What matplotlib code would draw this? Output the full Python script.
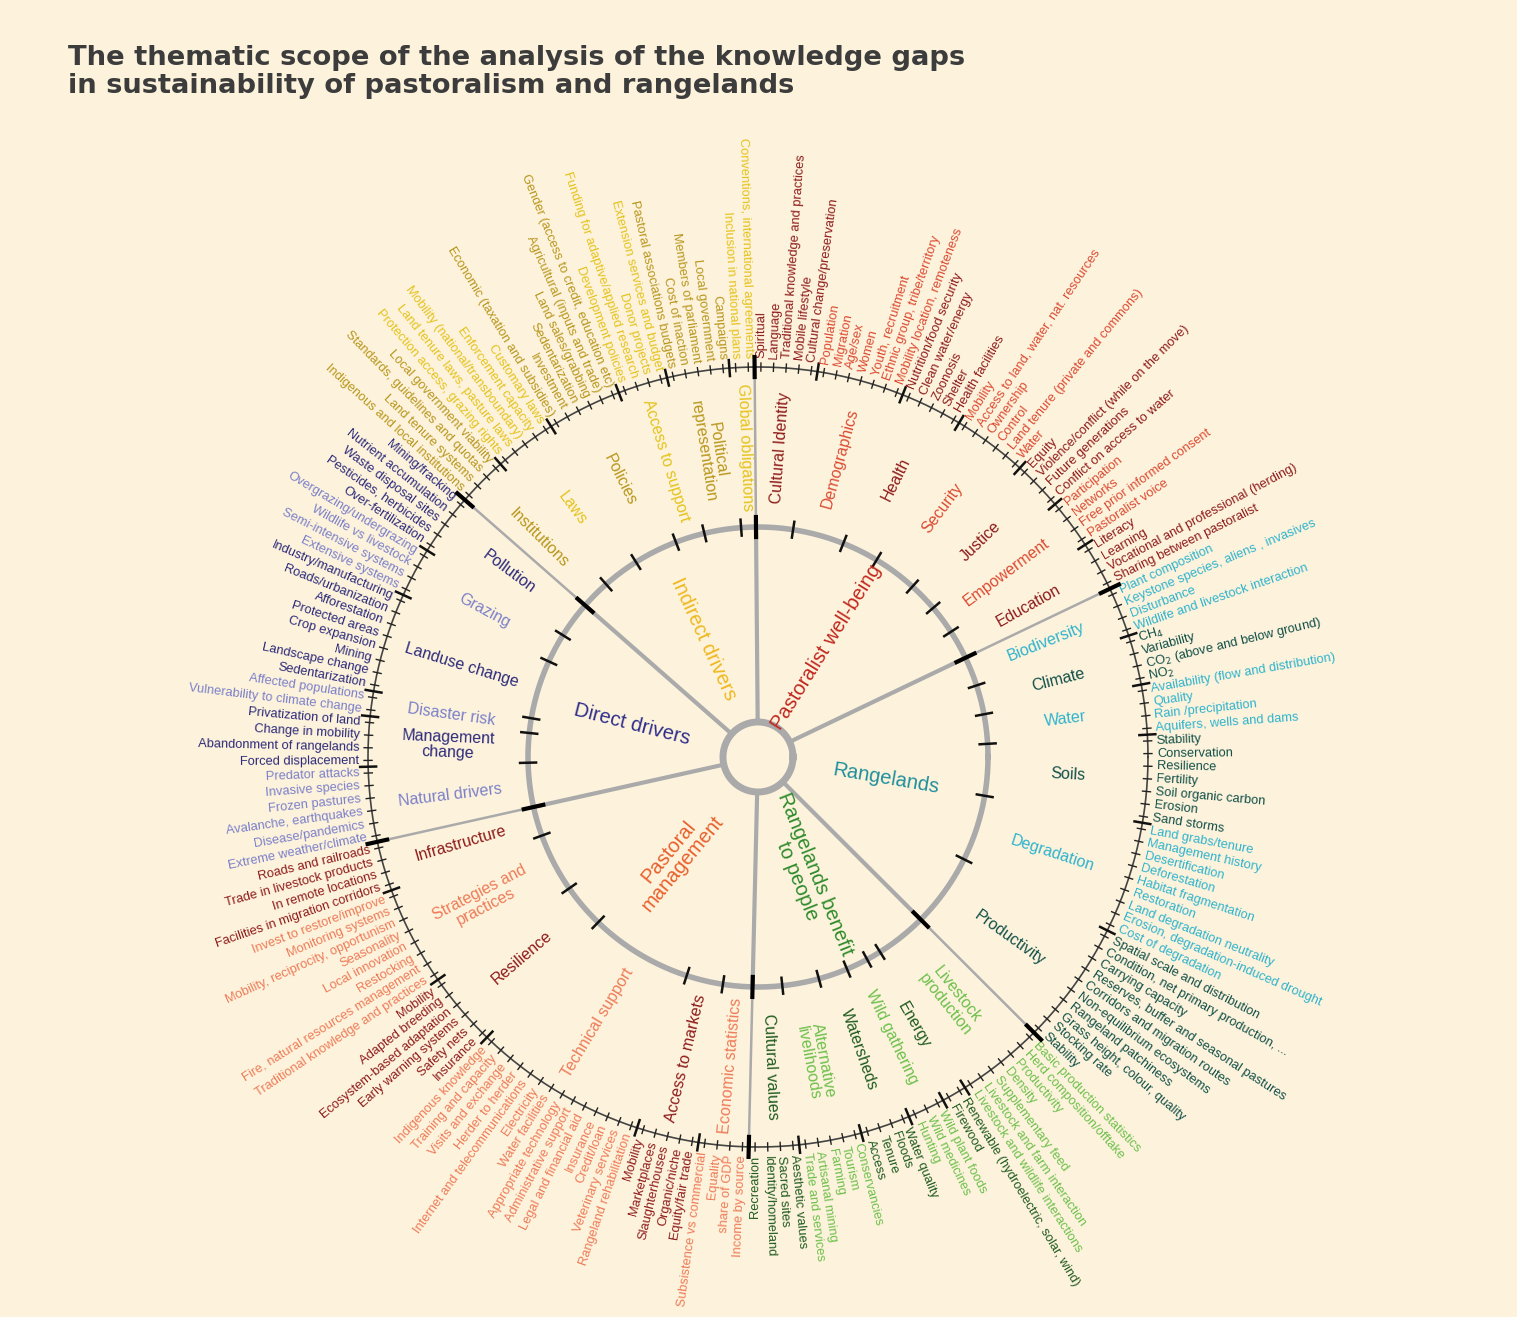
import numpy as np
import matplotlib.pyplot as plt

plt.rcParams['font.family'] = 'Liberation Sans'

BG = '#fdf3dc'
DRED, RED = '#8e1b1b', '#dc4a32'
CYAN, TEAL = '#2fb3cc', '#114f48'
LGREEN, DGREEN, GREEN = '#6dbf4b', '#1f5a1f', '#4ea83f'
NAVY, LAV = '#2c2a7a', '#7b80c9'
YEL, OLIVE = '#e5c21c', '#b8961c'
SALMON, ORANGE = '#ee7b58', '#e8602c'

# sectors in clockwise order from the top: (name, colour, [(subgroup, colour, items)])
wellbeing = [
    ('Cultural Identity', DRED, ['Spiritual', 'Language', 'Traditional knowledge and practices', 'Mobile lifestyle', 'Cultural change/preservation']),
    ('Demographics', RED, ['Population', 'Migration', 'Age/sex', 'Women', 'Youth, recruitment', 'Ethnic group, tribe/territory', 'Mobility location, remoteness']),
    ('Health', DRED, ['Nutrition/food security', 'Clean water/energy', 'Zoonosis', 'Shelter', 'Health facilities']),
    ('Security', RED, ['Mobility', 'Access to land, water, nat. resources', 'Ownership', 'Control', 'Land tenure (private and commons)', 'Water']),
    ('Justice', DRED, ['Equity', 'Violence/conflict (while on the move)', 'Future generations', 'Conflict on access to water']),
    ('Empowerment', RED, ['Participation', 'Networks', 'Free prior informed consent', 'Pastoralist voice']),
    ('Education', DRED, ['Literacy', 'Learning', 'Vocational and professional (herding)', 'Sharing between pastoralist']),
]
rangelands = [
    ('Biodiversity', CYAN, ['Plant composition', 'Keystone species, aliens , invasives', 'Disturbance', 'Wildlife and livestock interaction']),
    ('Climate', TEAL, ['CH$_4$', 'Variability', 'CO$_2$ (above and below ground)', 'NO$_2$']),
    ('Water', CYAN, ['Availability (flow and distribution)', 'Quality', 'Rain /precipitation', 'Aquifers, wells and dams']),
    ('Soils', TEAL, ['Stability', 'Conservation', 'Resilience', 'Fertility', 'Soil organic carbon', 'Erosion', 'Sand storms']),
    ('Degradation', CYAN, ['Land grabs/tenure', 'Management history', 'Desertification', 'Deforestation', 'Habitat fragmentation', 'Restoration',
                           'Land degradation neutrality', 'Erosion, degradation-induced drought', 'Cost of degradation']),
    ('Productivity', TEAL, ['Spatial scale and distribution', 'Condition, net primary production, ...', 'Carrying capacity',
                            'Reserves, buffer and seasonal pastures', 'Corridors and migration routes', 'Non-equilibrium ecosystems',
                            'Rangeland patchiness', 'Grass height, colour, quality', 'Stocking rate', 'Stability']),
]
benefits = [
    ('Livestock\nproduction', LGREEN, ['Basic production statistics', 'Herd composition/offtake', 'Productivity', 'Density', 'Supplementary feed',
                                      'Livestock and farm interaction', 'Livestock and wildlife interactions']),
    ('Energy', DGREEN, ['Renewable (hydroelectric, solar, wind)', 'Firewood']),
    ('Wild gathering', LGREEN, ['Wild plant foods', 'Wild medicines', 'Hunting']),
    ('Watersheds', DGREEN, ['Water quality', 'Floods', 'Tenure', 'Access']),
    ('Alternative\nlivelihoods', LGREEN, ['Conservancies', 'Tourism', 'Farming', 'Artisanal mining', 'Trade and services']),
    ('Cultural values', DGREEN, ['Aesthetic values', 'Sacred sites', 'Identity/homeland', 'Recreation']),
]
management = [
    ('Economic statistics', SALMON, ['Income by source', 'share of GDP', 'Equality', 'Subsistence vs commercial']),
    ('Access to markets', DRED, ['Equity/fair trade', 'Organic/niche', 'Slaughterhouses', 'Marketplaces', 'Mobility']),
    ('Technical support', SALMON, ['Rangeland rehabilitation', 'Veterinary services', 'Credit/loan', 'Insurance', 'Legal and financial aid',
                                   'Administrative support', 'Appropriate technology', 'Water facilities', 'Electricity',
                                   'Internet and telecommunications', 'Herder to herder', 'Visits and exchange', 'Training and capacity',
                                   'Indigenous knowledge']),
    ('Resilience', DRED, ['Insurance', 'Safety nets', 'Early warning systems', 'Ecosystem-based adaptation', 'Adapted breeding', 'Mobility']),
    ('Strategies and\npractices', SALMON, ['Traditional knowledge and practices', 'Fire, natural resources management', 'Restocking',
                                           'Local innovation', 'Seasonality', 'Mobility, reciprocity, opportunism', 'Monitoring systems',
                                           'Invest to restore/improve']),
    ('Infrastructure', DRED, ['Facilities in migration corridors', 'In remote locations', 'Trade in livestock products', 'Roads and railroads']),
]
direct = [
    ('Natural drivers', LAV, ['Extreme weather/climate', 'Disease/pandemics', 'Avalanche, earthquakes', 'Frozen pastures', 'Invasive species',
                              'Predator attacks']),
    ('Management\nchange', NAVY, ['Forced displacement', 'Abandonment of rangelands', 'Change in mobility', 'Privatization of land']),
    ('Disaster risk', LAV, ['Vulnerability to climate change', 'Affected populations']),
    ('Landuse change', NAVY, ['Sedentarization', 'Landscape change', 'Mining', 'Crop expansion', 'Protected areas', 'Afforestation',
                              'Roads/urbanization', 'Industry/manufacturing']),
    ('Grazing', LAV, ['Extensive systems', 'Semi-intensive systems', 'Wildlife vs livestock', 'Overgrazing/undergrazing']),
    ('Pollution', NAVY, ['Over-fertilization', 'Pesticides, herbicides', 'Waste disposal sites', 'Nutrient accumulation', 'Mining/fracking']),
]
indirect = [
    ('Institutions', OLIVE, ['Indigenous and local institutions', 'Land tenure systems', 'Standards, guidelines and quotas',
                             'Local government viability']),
    ('Laws', YEL, ['Protection access, grazing rights', 'Land tenure laws, pasture laws', 'Mobility (national/transboundary)',
                   'Enforcement capacity', 'Customary laws']),
    ('Policies', OLIVE, ['Economic (taxation and subsidies)', 'Investment', 'Sedentarization', 'Land sales/grabbing',
                         'Agricultural (inputs and trade)', 'Gender (access to credit, education etc)']),
    ('Access to support', YEL, ['Development policies', 'Funding for adaptive/applied research', 'Donor projects',
                                'Extension services and budget']),
    ('Political\nrepresentation', OLIVE, ['Pastoral associations budgets', 'Cost of inaction', 'Members of parliament',
                                          'Local government', 'Campaigns']),
    ('Global obligations', YEL, ['Inclusion in national plans', 'Conventions, international agreements']),
]
sectors = [
    ('Pastoralist well-being', '#c0281e', wellbeing),
    ('Rangelands', '#1f8f9c', rangelands),
    ('Rangelands benefit\nto people', '#2e8a2a', benefits),
    ('Pastoral\nmanagement', ORANGE, management),
    ('Direct drivers', '#2e2e8a', direct),
    ('Indirect drivers', '#efb81e', indirect),
]

CX, CY = 758, 757
R0, R1, R2 = 35, 230, 390
START = 90.5

n_items = sum(len(g[2]) for s in sectors for g in s[2])
step = 360.0 / n_items

fig = plt.figure(figsize=(15.17, 13.17), dpi=100, facecolor=BG)
ax = fig.add_axes([0, 0, 1, 1])
ax.set_facecolor(BG)
ax.set_xlim(0, 1517)
ax.set_ylim(1317, 0)
ax.axis('off')


def pt(r, a):
    t = np.radians(a)
    return CX + r * np.cos(t), CY - r * np.sin(t)


def radial_text(r, a, s, color, size, ha_out=True, **kw):
    a = (a + 180) % 360 - 180
    x, y = pt(r, a)
    if -90 < a <= 90:
        rot, ha = a, 'left'
    else:
        rot, ha = a - 180, 'right'
    if not ha_out:
        ha = 'center'
    ax.text(x, y, s, rotation=rot, rotation_mode='anchor', ha=ha, va='center',
            color=color, fontsize=size, **kw)


def radial_line(r_a, r_b, a, **kw):
    x0, y0 = pt(r_a, a)
    x1, y1 = pt(r_b, a)
    ax.plot([x0, x1], [y0, y1], **kw)


th = np.linspace(0, 2 * np.pi, 721)
ax.plot(CX + R2 * np.cos(th), CY + R2 * np.sin(th), color='#444444', lw=1.2, zorder=2)
ax.plot(CX + R1 * np.cos(th), CY + R1 * np.sin(th), color='#aaaaaa', lw=4, zorder=2)
ax.plot(CX + R0 * np.cos(th), CY + R0 * np.sin(th), color='#aaaaaa', lw=5, zorder=2)

k = 0
for sname, scol, groups in sectors:
    a_start = START - k * step
    for gname, gcol, items in groups:
        g_start = START - k * step
        for item in items:
            a = START - (k + 0.5) * step
            radial_line(R2 - 4, R2 + 4, a, color='#222222', lw=1)
            radial_text(R2 + 9, a, item, gcol, 9.3)
            k += 1
        g_end = START - k * step
        gm = (g_start + g_end) / 2
        radial_text(R1 + 80, gm, gname, gcol, 11.5, ha_out=False, linespacing=1.0)
        radial_line(R1 - 8, R1 + 8, g_end, color='#111111', lw=1.8, zorder=3)
        radial_line(R2 - 8, R2 + 8, g_end, color='#111111', lw=1.8, zorder=3)
    a_end = START - k * step
    radial_text(130, (a_start + a_end) / 2, sname, scol, 14.5, ha_out=False, linespacing=1.0)
    radial_line(R0, R1, a_end, color='#aaaaaa', lw=3, zorder=1)
    radial_line(R1, R2, a_end, color='#aaaaaa', lw=1.8, zorder=1)
    radial_line(R1 - 10, R1 + 10, a_end, color='#000000', lw=3, zorder=4)
    radial_line(R2 - 10, R2 + 10, a_end, color='#000000', lw=3, zorder=4)

ax.text(68, 72, 'The thematic scope of the analysis of the knowledge gaps\nin sustainability of pastoralism and rangelands',
        fontsize=19.7, fontweight='bold', color='#3c3c3c', ha='left', va='center', linespacing=1.1,
        family='DejaVu Sans')

fig.savefig('out.png', dpi=100, facecolor=BG)
